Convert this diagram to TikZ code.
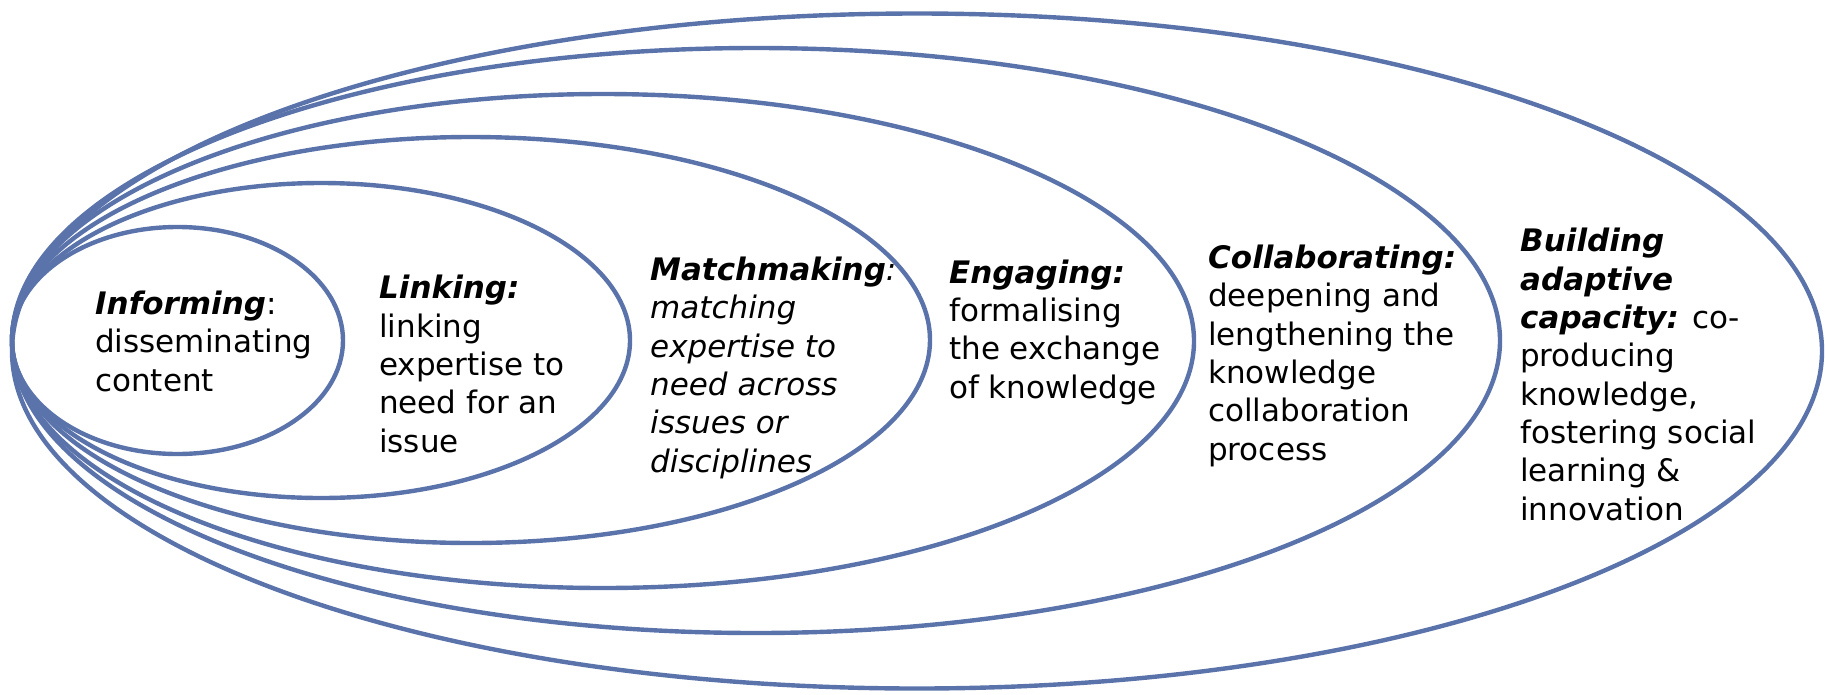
\documentclass[tikz,border=0pt]{standalone}
\usepackage{fontspec}
\setmainfont{DejaVu Sans}
\definecolor{ringblue}{RGB}{90,115,170}
\begin{document}
\begin{tikzpicture}[x=1pt,y=-1pt,
  ring/.style={draw=ringblue, line width=4.4pt},
  lbl/.style={anchor=base west, align=left, inner sep=0pt, font=\fontsize{31}{38.3}\selectfont}]
\useasboundingbox (0,0) rectangle (1825,694);
\draw[ring] (917,351) ellipse [x radius=905pt, y radius=337.5pt];
\draw[ring] (756,340.5) ellipse [x radius=744pt, y radius=292.5pt];
\draw[ring] (603,341) ellipse [x radius=591pt, y radius=247pt];
\draw[ring] (471,340) ellipse [x radius=459pt, y radius=203pt];
\draw[ring] (321,340.5) ellipse [x radius=309pt, y radius=157.5pt];
\draw[ring] (177.5,340.5) ellipse [x radius=165.5pt, y radius=113.5pt];
% base anchor = baseline of last line
\node[lbl] (informing) at (95,391) {\textbf{\textit{Informing}}:\\disseminating\\content};
\node[lbl] (linking) at (379,452) {\textbf{\textit{Linking:}}\\linking\\expertise to\\need for an\\issue};
\node[lbl] (matchmaking) at (650,472) {\textbf{\textit{Matchmaking}}\textit{:}\\\textit{matching}\\\textit{expertise to}\\\textit{need across}\\\textit{issues or}\\\textit{disciplines}};
\node[lbl] (engaging) at (949,398) {\textbf{\textit{Engaging:}}\\formalising\\the exchange\\of knowledge};
\node[lbl] (collaborating) at (1208,460) {\textbf{\textit{Collaborating:}}\\deepening and\\lengthening the\\knowledge\\collaboration\\process};
\node[lbl] (building) at (1520,520) {\textbf{\textit{Building}}\\\textbf{\textit{adaptive}}\\\textbf{\textit{capacity:}} co-\\producing\\knowledge,\\fostering social\\learning \&\\innovation};
\end{tikzpicture}
\end{document}
